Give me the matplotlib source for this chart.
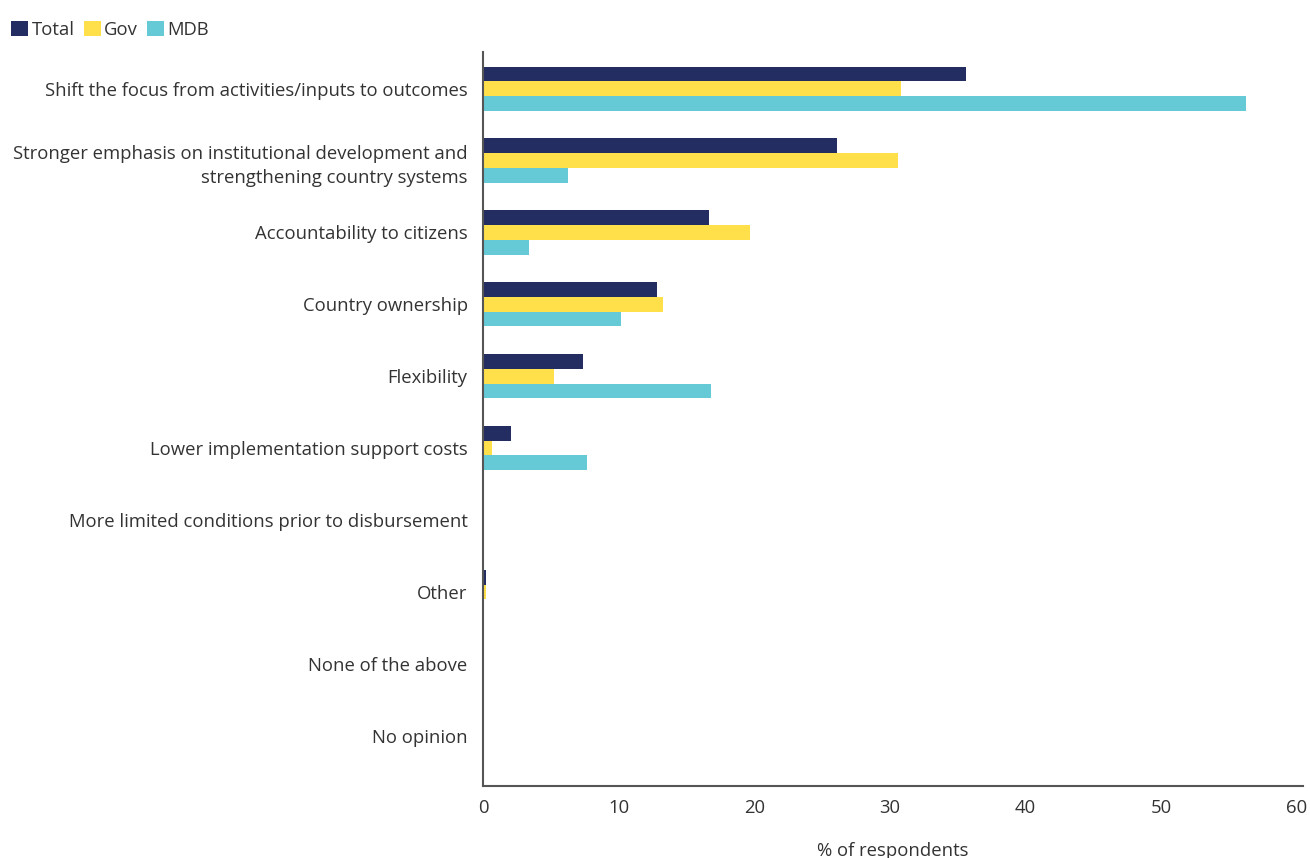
import numpy as np
import matplotlib.pyplot as plt

plt.rcParams['font.family'] = ['Open Sans', 'DejaVu Sans']

categories = [
    "Shift the focus from activities/inputs to outcomes",
    "Stronger emphasis on institutional development and\nstrengthening country systems",
    "Accountability to citizens",
    "Country ownership",
    "Flexibility",
    "Lower implementation support costs",
    "More limited conditions prior to disbursement",
    "Other",
    "None of the above",
    "No opinion",
]
total = [35.6, 26.1, 16.7, 12.8, 7.4, 2.1, 0, 0.25, 0, 0]
gov = [30.8, 30.6, 19.7, 13.3, 5.2, 0.7, 0, 0.25, 0, 0]
mdb = [56.3, 6.3, 3.4, 10.2, 16.8, 7.7, 0, 0, 0, 0]
xticks = [0, 10, 20, 30, 40, 50, 60]

c_total = '#232d62'
c_gov = '#ffe04b'
c_mdb = '#66cad6'
txt = '#333333'
fs = 13.3

fig = plt.figure(figsize=(13.1, 8.58), dpi=100)
ax = fig.add_axes([0.3687, 0.0839, 0.6263, 0.8555])

y = np.arange(len(categories))
h = 0.205
ax.barh(y - h, total, height=h, color=c_total, label='Total')
ax.barh(y, gov, height=h, color=c_gov, label='Gov')
ax.barh(y + h, mdb, height=h, color=c_mdb, label='MDB')

ax.set_ylim(9.7, -0.51)
ax.set_xlim(0, 60.5)
ax.set_yticks(y)
ax.set_yticklabels(categories, fontsize=fs, color=txt)
ax.set_xticks(xticks)
ax.set_xticklabels([str(t) for t in xticks], fontsize=fs, color=txt)
ax.tick_params(axis='y', length=0, pad=11)
ax.tick_params(axis='x', length=0, pad=9)
for lbl in ax.get_yticklabels():
    lbl.set_horizontalalignment('right')
    lbl.set_multialignment('right')
    lbl.set_linespacing(1.45)

for s in ['top', 'right']:
    ax.spines[s].set_visible(False)
for s in ['left', 'bottom']:
    ax.spines[s].set_color('#555555')
    ax.spines[s].set_linewidth(1.5)

ax.set_xlabel('% of respondents', fontsize=fs, color=txt, labelpad=18)

fig.legend(loc='upper left', bbox_to_anchor=(-0.004, 0.995), ncol=3, frameon=False,
           handlelength=0.9, handleheight=0.9, handletextpad=0.2, columnspacing=0.5,
           fontsize=fs, labelcolor=txt)

fig.savefig('out.png', dpi=100)
